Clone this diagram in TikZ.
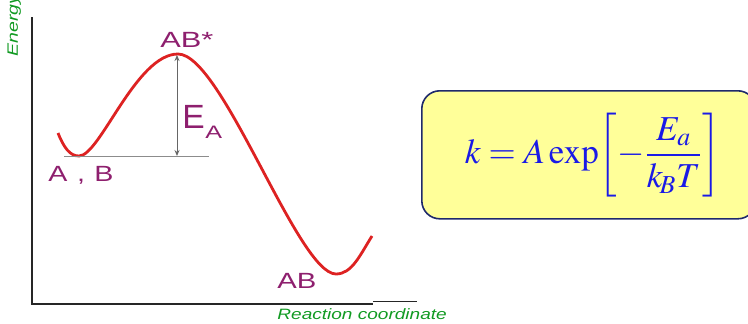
\documentclass[tikz,border=0pt]{standalone}
\usepackage{mathptmx}
\usepackage[no-math]{fontspec}
\setsansfont{Liberation Sans}
\usetikzlibrary{arrows.meta}
\definecolor{lblpurple}{HTML}{8E1F6E}
\definecolor{axgreen}{HTML}{119A22}
\definecolor{curvered}{HTML}{DD2222}
\definecolor{boxfill}{HTML}{FFFF99}
\definecolor{boxline}{HTML}{1F2A6B}
\definecolor{formblue}{HTML}{1A1AE6}
\newcommand{\wide}[2][1.35]{\scalebox{#1}[1]{#2}}
\tikzset{
  lbl/.style={text=lblpurple, font=\sffamily\fontsize{11}{13}\selectfont, inner sep=0pt},
  axlbl/.style={text=axgreen, font=\sffamily\itshape\fontsize{7.5}{9}\selectfont, inner sep=0pt},
  axis/.style={draw=black!85, line width=0.9pt},
  curve/.style={draw=curvered, line width=1.4pt},
  levelline/.style={draw=black!45, line width=0.5pt},
  barrier/.style={draw=black!60, line width=0.5pt, {Stealth[length=3pt,width=2.5pt]}-{Stealth[length=3pt,width=2.5pt]}},
  formbox/.style={draw=boxline, fill=boxfill, rounded corners=9pt, line width=0.8pt}
}
\begin{document}
\begin{tikzpicture}[x=0.5pt,y=-0.5pt]
\useasboundingbox (0,0) rectangle (748,323);
% axes
\coordinate (ytop) at (32,17);
\coordinate (orig) at (32,304);
\coordinate (xend) at (373,304);
\coordinate (x2a) at (373,301);
\coordinate (x2b) at (417,301);
\draw[axis] (ytop) -- (orig) -- (xend);
\draw[draw=black!85, line width=0.5pt] (x2a) -- (x2b);
\node[axlbl, rotate=90, anchor=base west] (energy) at (18,57) {\wide[1.3]{Energy}};
\node[axlbl, anchor=base west] (rc) at (277,319) {\wide[1.27]{Reaction coordinate}};
% curve
\coordinate (c0) at (58,133);
\coordinate (minA) at (79,156);
\coordinate (peak) at (178,54);
\coordinate (minB) at (336,274);
\coordinate (c4) at (372,236);
\draw[curve] (c0) .. controls (64,148) and (70,156) .. (minA)
  .. controls (100,156) and (136,54) .. (peak)
  .. controls (222,54) and (298,274) .. (minB)
  .. controls (352,274) and (360,255) .. (c4);
% level line and barrier arrow
\coordinate (lvl0) at (64,156);
\coordinate (lvl1) at (209,156);
\coordinate (arrbot) at (177,156);
\coordinate (arrtop) at (177,55);
\draw[levelline] (lvl0) -- (lvl1);
\draw[barrier] (arrtop) -- (arrbot);
% labels
\node[lbl, anchor=base west] (ts) at (160,47) {\wide[1.4]{AB*}};
\node[lbl, anchor=base west, font=\sffamily\fontsize{16.8}{18}\selectfont] (ea) at (182,128) {E};
\node[lbl, anchor=base west, font=\sffamily\fontsize{9}{11}\selectfont] (easub) at (205,138) {\wide[1.4]{A}};
\node[lbl, anchor=base west] (ab0) at (48,181) {\wide[1.3]{A\,\,,\,\,B}};
\node[lbl, anchor=base west] (ab1) at (277,288) {\wide[1.33]{AB}};
% formula box
\node[formbox, minimum width=334pt/2, minimum height=128pt/2, anchor=north west] (box) at (421,90) {};
\node[text=formblue, inner sep=0pt] (formula) at (593,155) {\fontsize{17.5}{21}\selectfont$\displaystyle k = A\exp\!\left[-\frac{E_a}{k_{\!B}T}\right]$};
\end{tikzpicture}
\end{document}
